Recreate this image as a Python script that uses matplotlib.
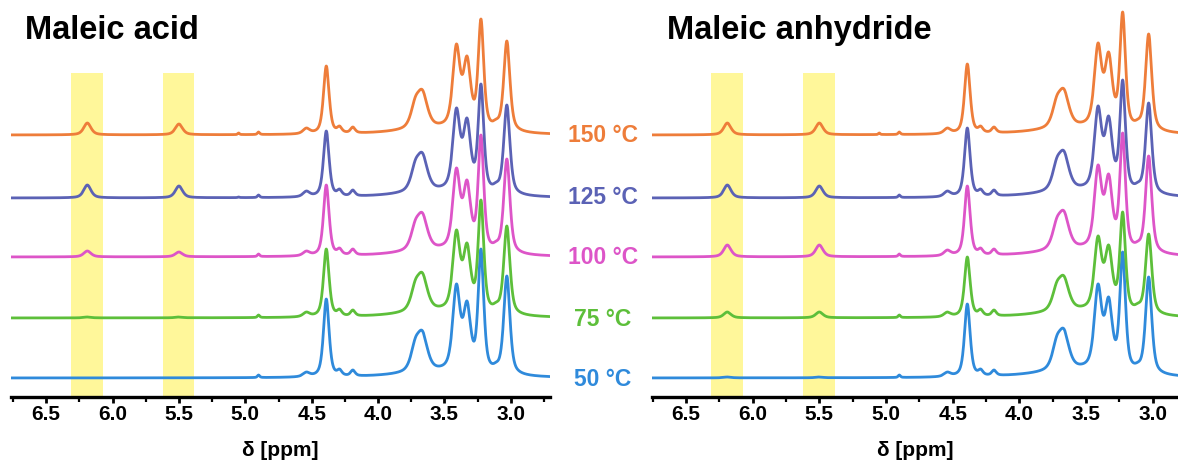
import numpy as np
import matplotlib
matplotlib.use("Agg")
import matplotlib.pyplot as plt
from matplotlib.ticker import MultipleLocator

plt.rcParams['font.family'] = ['Liberation Sans', 'DejaVu Sans']
plt.rcParams['font.weight'] = 'bold'

# temperatures, bottom to top
temps = ["50 °C", "75 °C", "100 °C", "125 °C", "150 °C"]
colors = ["#2F8ADB", "#5DBF3A", "#DD55C8", "#5B62B5", "#EE7D3A"]
offsets = [0, 60, 121, 180, 243]

# peak list: position [ppm], width [ppm]
peak_ppm = [6.19, 5.50, 5.05, 4.90, 4.54, 4.39, 4.29, 4.19, 3.72, 3.665, 3.41, 3.33, 3.225, 3.11, 3.03, 3.55]
peak_fwhm = [0.065, 0.065, 0.015, 0.02, 0.06, 0.05, 0.04, 0.04, 0.08, 0.09, 0.065, 0.065, 0.05, 0.05, 0.055, 0.8]

# apparent heights seen at each peak position (rows = temps, columns = peaks)
acid_heights = [
    [0, 0, 0, 3, 6, 79, 9, 8, 40, 47, 94, 77, 129, 16, 102, 12],
    [1, 1, 0, 3, 6, 69, 9, 8, 38, 45, 88, 75, 118, 16, 92, 12],
    [6, 5, 0, 3, 6, 72, 9, 8, 37, 44, 89, 77, 122, 16, 98, 12],
    [13, 12, 1, 3, 7, 67, 9, 8, 38, 45, 90, 80, 114, 16, 93, 12],
    [12, 11, 2, 3, 7, 69, 9, 8, 38, 45, 91, 79, 116, 16, 94, 12],
]
anhydride_heights = [
    [1, 1, 0, 3, 6, 74, 9, 8, 42, 49, 94, 81, 126, 16, 101, 14],
    [6, 6, 0, 3, 6, 61, 9, 8, 36, 42, 82, 73, 106, 15, 84, 12],
    [12, 12, 0, 3, 7, 71, 9, 8, 39, 46, 92, 83, 124, 16, 101, 13],
    [13, 12, 0, 3, 7, 70, 9, 8, 40, 47, 92, 82, 118, 16, 95, 13],
    [12, 12, 2, 3, 7, 71, 9, 8, 39, 46, 92, 83, 123, 16, 101, 13],
]

panel_titles = ["Maleic acid", "Maleic anhydride"]
bands = [(6.31, 6.075), (5.62, 5.385)]

ETA = 0.6


def shape(ppm, x0, w):
    hw = w / 2
    u = ((ppm - x0) / hw) ** 2
    return ETA / (1 + u) + (1 - ETA) * np.exp(-np.log(2) * u)


# peak shapes evaluated at every peak position, to turn apparent heights into amplitudes
M = np.array([[shape(xi, x0, w) for x0, w in zip(peak_ppm, peak_fwhm)] for xi in peak_ppm])


def spectrum(ppm, seen):
    amp = np.clip(np.linalg.solve(M, np.array(seen, float)), 0, None)
    y = np.zeros_like(ppm)
    for x0, w, a in zip(peak_ppm, peak_fwhm, amp):
        y += a * shape(ppm, x0, w)
    return y


fig = plt.figure(figsize=(11.78, 4.68), dpi=100)
W, H = 1178, 468
ax_l = fig.add_axes([11 / W, 71 / H, 539 / W, 397 / H])
ax_r = fig.add_axes([652 / W, 71 / H, 526 / W, 397 / H])

ppm = np.linspace(2.6, 6.9, 3000)
for ax, heights, xlim in [(ax_l, acid_heights, (6.765, 2.705)),
                          (ax_r, anhydride_heights, (6.755, 2.81))]:
    for b0, b1 in bands:
        ax.fill_betweenx([-30, 305], b0, b1, color="#FFF79A", lw=0, zorder=0)
    for off, c, h in zip(offsets, colors, heights):
        ax.plot(ppm, spectrum(ppm, h) + off, color=c, lw=2.0, zorder=2)
    ax.set_xlim(*xlim)
    ax.set_ylim(-19, 378)
    for s in ["top", "left", "right"]:
        ax.spines[s].set_visible(False)
    ax.spines["bottom"].set_linewidth(2.4)
    ax.set_yticks([])
    ax.xaxis.set_major_locator(MultipleLocator(0.5))
    ax.xaxis.set_minor_locator(MultipleLocator(0.25))
    ax.xaxis.set_major_formatter(plt.FuncFormatter(lambda v, p: f"{v:.1f}"))
    ax.tick_params(axis="x", which="major", length=4.5, width=2, labelsize=15, pad=1.5)
    ax.tick_params(axis="x", which="minor", length=3.5, width=1.6)
    pos = ax.get_position()
    fig.text(pos.x0 + pos.width / 2, 1 - 450 / H, "δ [ppm]",
             ha="center", va="center", fontsize=15, fontweight="bold")

fig.text(25 / W, 1 - 39 / H, panel_titles[0], fontsize=23.5, fontweight="bold", va="baseline")
fig.text(667 / W, 1 - 39 / H, panel_titles[1], fontsize=23.5, fontweight="bold", va="baseline")

label_y = [380, 320, 257, 197, 135]
for t, c, y in zip(temps, colors, label_y):
    fig.text(603 / W, 1 - y / H, t, color=c, fontsize=16.5, fontweight="bold",
             ha="center", va="center")

fig.savefig("out.png", dpi=100)
